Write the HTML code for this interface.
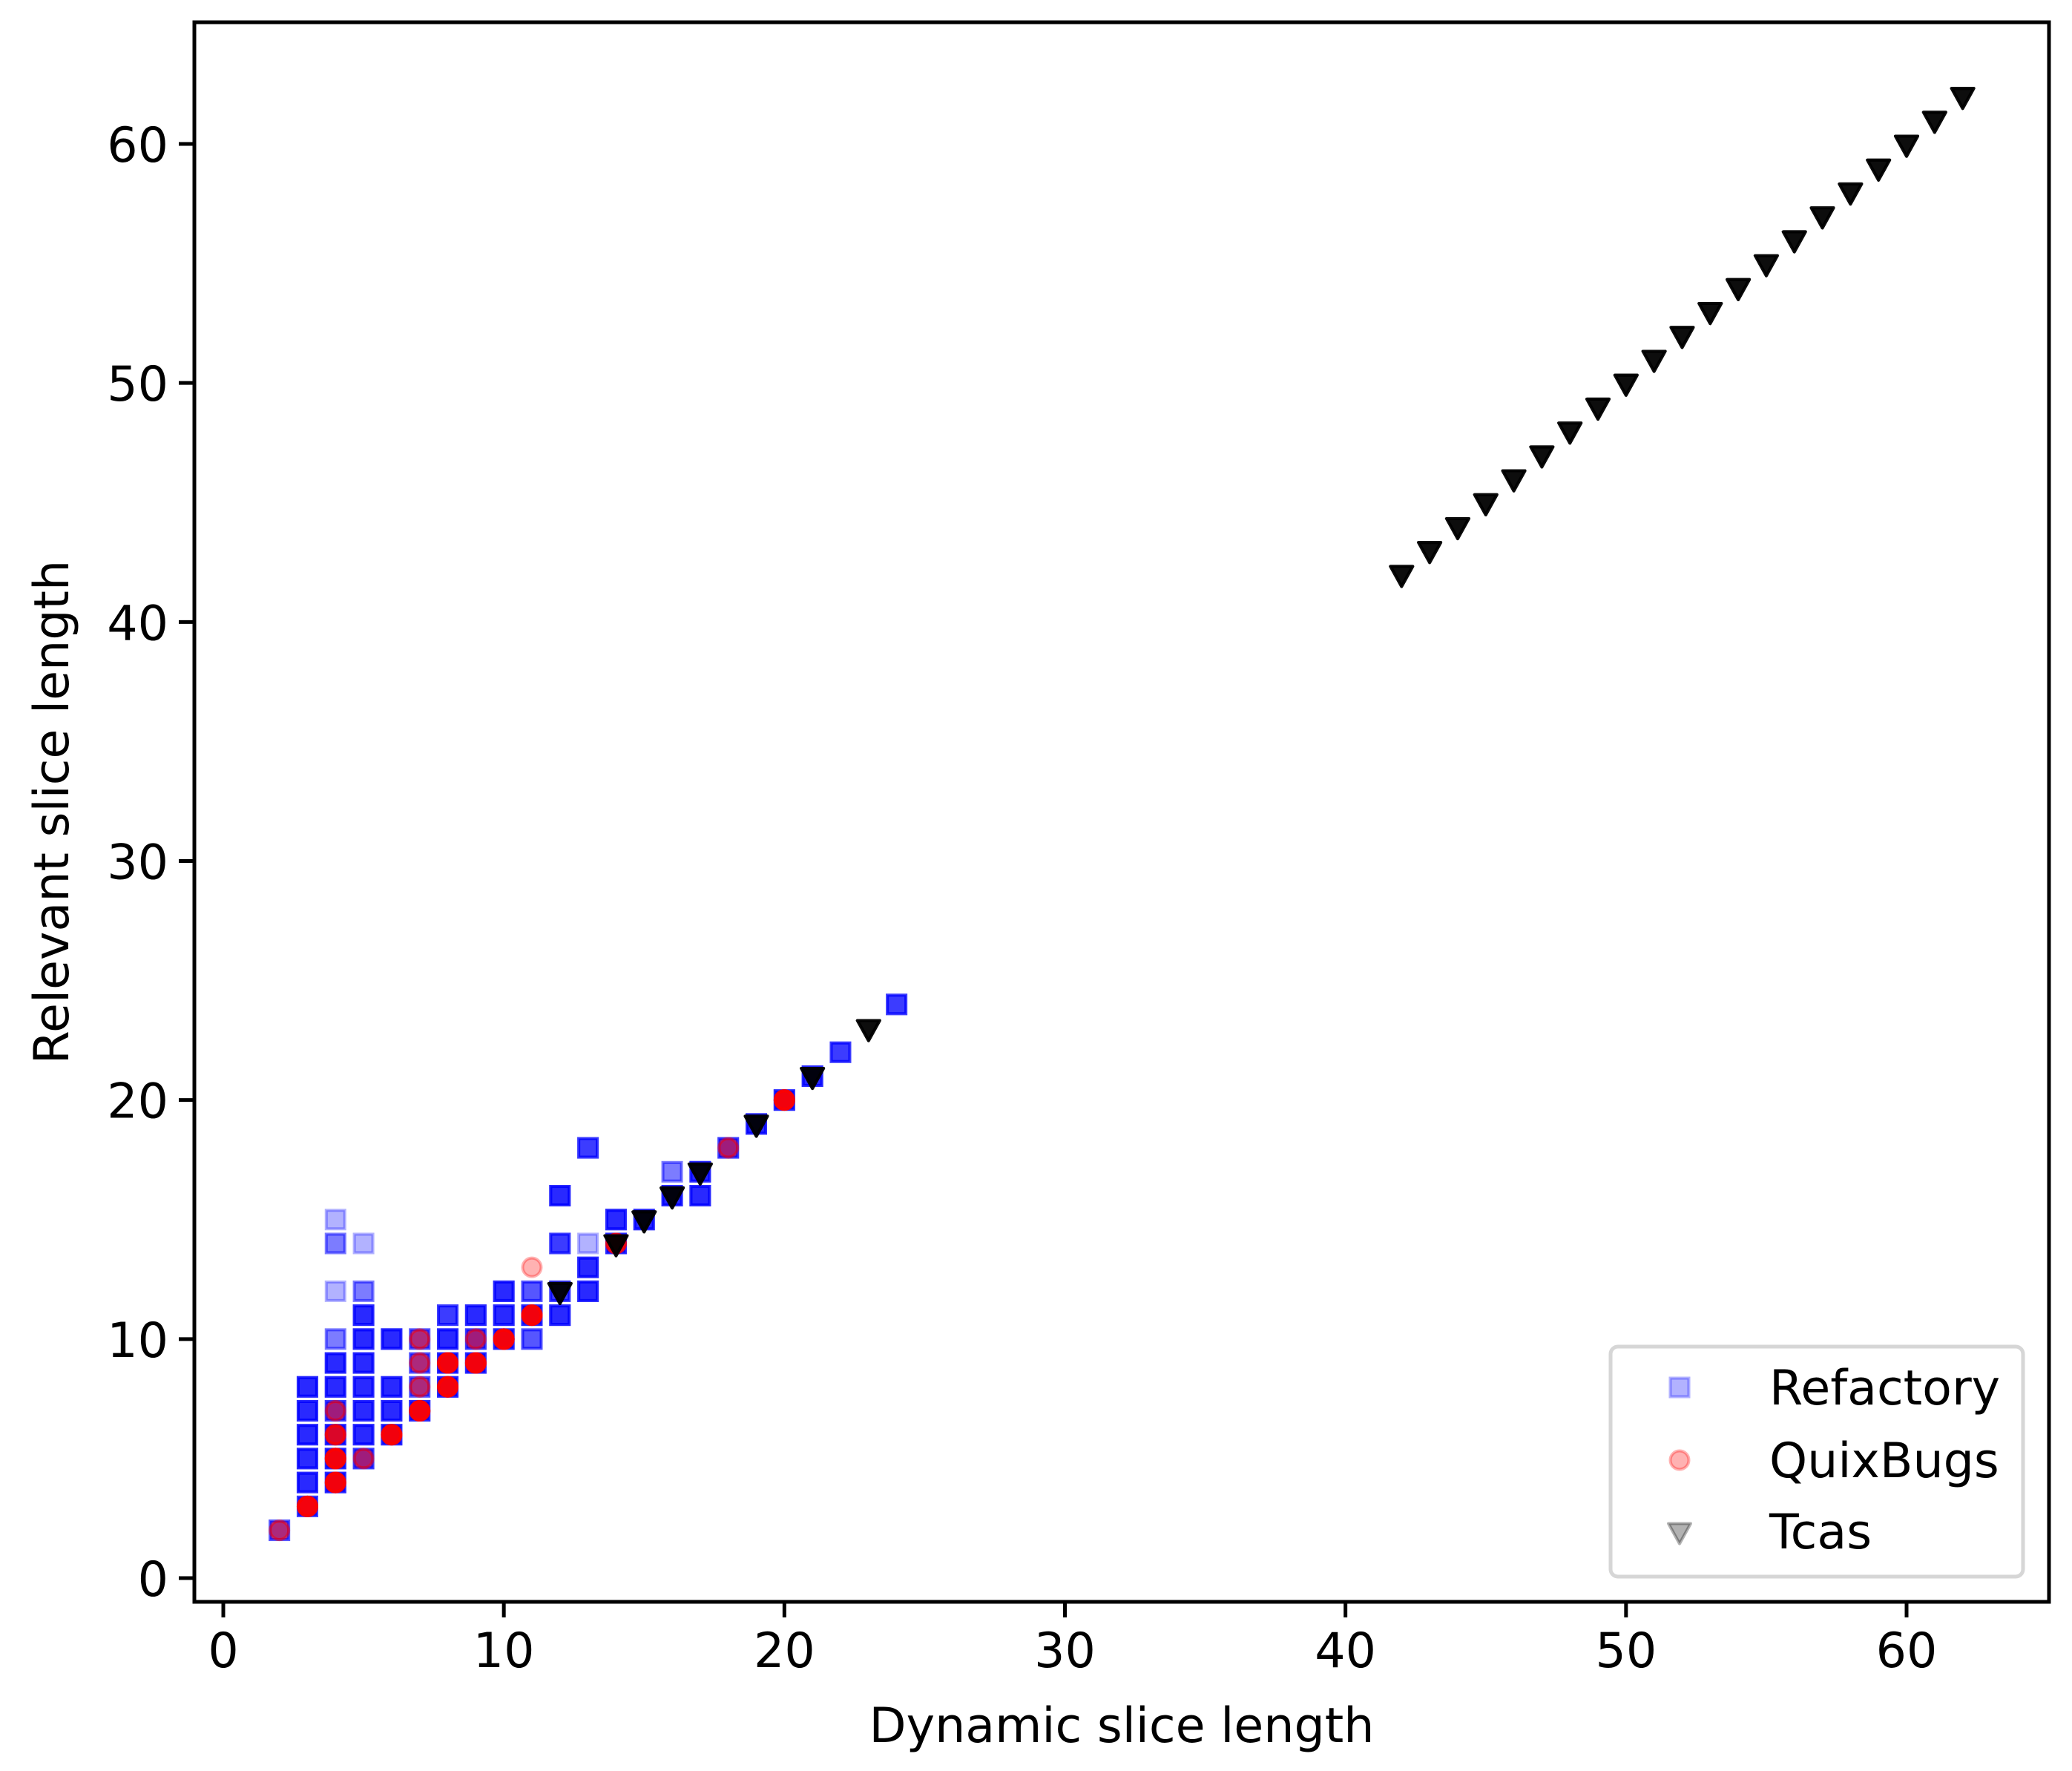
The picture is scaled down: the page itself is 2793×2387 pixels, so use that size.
<!DOCTYPE html>
<html><head><meta charset="utf-8"><style>
html,body{margin:0;padding:0;background:#fff;}
svg{display:block;font-family:"DejaVu Sans","Liberation Sans",sans-serif;}
</style></head><body>
<svg id="chart" xmlns="http://www.w3.org/2000/svg" width="2793" height="2387" viewBox="0 0 2793 2387">
<rect x="0" y="0" width="2793" height="2387" fill="#fff"/>
<g id="marks"></g>
<g id="axes"></g>
<g id="legend"></g>
</svg>
<script>
// ---- data ----
const refX = [2,3,3,3,3,3,3, 4,4,4,4,4,4,4,4,4,4, 5,5,5,5,5,5,5,5,5, 6,6,6,6, 7,7,7,7, 8,8,8,8, 9,9,9, 10,10,10, 11,11,11, 12,12,12,12, 13,13,13,13, 14,14, 15,16,16,17,17,18,19,20,21,22,24];
const refY = [2,3,4,5,6,7,8, 4,5,6,7,8,9,10,12,14,15, 5,6,7,8,9,10,11,12,14, 6,7,8,10, 7,8,9,10, 8,9,10,11, 9,10,11, 10,11,12, 10,11,12, 11,12,14,16, 12,13,14,18, 14,15, 15,16,17,16,17,18,19,20,21,22,24];
const refN = [3,4,5,5,5,5,5, 5,5,5,4,5,5,2,1,2,1, 4,5,5,5,5,5,5,2,1, 5,5,5,5, 5,3,3,3, 5,5,5,4, 5,4,5, 5,5,5, 3,5,3, 5,4,4,5, 5,5,1,4, 5,5, 5,5,2,5,5,4,5,5,5,4,4];
const quixX = [2,3,4,4,4,4,5,6,7,7,7,7,8,8,9,9,10,11,11,14,18,20];
const quixY = [2,3,4,5,6,7,5,6,7,8,9,10,8,9,9,10,10,11,13,14,18,20];
const quixN = [2,8,8,8,5,2,2,8,8,2,2,2,8,8,8,2,8,8,1,5,2,8];
const tcasX = [12,14,15,16,17,19,21,23,42,43,44,45,46,47,48,49,50,51,52,53,54,55,56,57,58,59,60,61,62];
const tcasY = [12,14,15,16,17,19,21,23,42,43,44,45,46,47,48,49,50,51,52,53,54,55,56,57,58,59,60,61,62];
const tcasN = [8,8,8,8,8,8,8,8,8,8,8,8,8,8,8,8,8,8,8,8,8,8,8,8,8,8,8,8,8];
const xTicks = [0,10,20,30,40,50,60];
const yTicks = [0,10,20,30,40,50,60];

// ---- axes geometry ----
const L=262,R=2762,T=30,B=2159;
const X0=301, XS=(2570-301)/60;
const Y0=2127, YS=(2127-194)/60;
const sx=v=>X0+v*XS, sy=v=>Y0-v*YS;
const NS="http://www.w3.org/2000/svg";
function mk(tag,attrs,parent){const e=document.createElementNS(NS,tag);for(const k in attrs)e.setAttribute(k,attrs[k]);parent.appendChild(e);return e;}
const marks=document.getElementById('marks'), axes=document.getElementById('axes'), leg=document.getElementById('legend');
const S=25;
function square(cx,cy,p,name){const e=mk('rect',{x:cx-S/2,y:cy-S/2,width:S,height:S,fill:'#0000ff','fill-opacity':0.3,stroke:'#0000ff','stroke-opacity':0.3,'stroke-width':4},p);

return e;}
function circle(cx,cy,p,name){const e=mk('circle',{cx:cx,cy:cy,r:S/2,fill:'#ff0000','fill-opacity':0.3,stroke:'#ff0000','stroke-opacity':0.3,'stroke-width':4},p);

return e;}
function tri(cx,cy,p,name){const h=S*0.7;const e=mk('path',{d:`M${cx-S*0.6},${cy-h*0.6} L${cx+S*0.6},${cy-h*0.6} L${cx},${cy+h*0.95} Z`,fill:'#000','fill-opacity':0.3,stroke:'#000','stroke-opacity':0.3,'stroke-width':4,'stroke-linejoin':'round'},p);

return e;}

for(let i=0;i<refX.length;i++) for(let k=0;k<refN[i];k++) square(sx(refX[i]),sy(refY[i]),marks,'refactory-point');
for(let i=0;i<quixX.length;i++) for(let k=0;k<quixN[i];k++) circle(sx(quixX[i]),sy(quixY[i]),marks,'quixbugs-point');
for(let i=0;i<tcasX.length;i++) for(let k=0;k<tcasN[i];k++) tri(sx(tcasX[i]),sy(tcasY[i]),marks,'tcas-point');

// frame
const fr=mk('rect',{x:L,y:T,width:R-L,height:B-T,fill:'none',stroke:'#000','stroke-width':5},axes);


const FS=65;
xTicks.forEach(v=>{
  const t=mk('line',{x1:sx(v),x2:sx(v),y1:B,y2:B+21,stroke:'#000','stroke-width':5},axes);
  
  
  const l=mk('text',{x:sx(v),y:B+88,'font-size':FS,'text-anchor':'middle',fill:'#000'},axes);
  l.textContent=v;
  
  
});
yTicks.forEach(v=>{
  const t=mk('line',{x1:L-21,x2:L,y1:sy(v),y2:sy(v),stroke:'#000','stroke-width':5},axes);
  
  
  const l=mk('text',{x:L-35,y:sy(v)+24,'font-size':FS,'text-anchor':'end',fill:'#000'},axes);
  l.textContent=v;
  
  
});
const xl=mk('text',{x:(L+R)/2,y:2348,'font-size':FS,'text-anchor':'middle',fill:'#000'},axes);
xl.textContent='Dynamic slice length';


const yl=mk('text',{x:0,y:0,'font-size':FS,'text-anchor':'middle',fill:'#000',transform:`translate(92,${(T+B)/2}) rotate(-90)`},axes);
yl.textContent='Relevant slice length';



// legend
const lb=mk('rect',{x:2171,y:1815,width:556,height:310,rx:10,fill:'#fff','fill-opacity':0.8,stroke:'#d6d6d6','stroke-width':5},leg);


const names=['Refactory','QuixBugs','Tcas'], rows=[1870,1968,2064];
[square,circle,tri].forEach((f,i)=>{
  f(2264,rows[i],leg,'legend-marker-'+names[i].toLowerCase());
  const t=mk('text',{x:2385,y:rows[i]+23,'font-size':FS,fill:'#000'},leg);
  t.textContent=names[i];
  
  
});
</script>
</body></html>
